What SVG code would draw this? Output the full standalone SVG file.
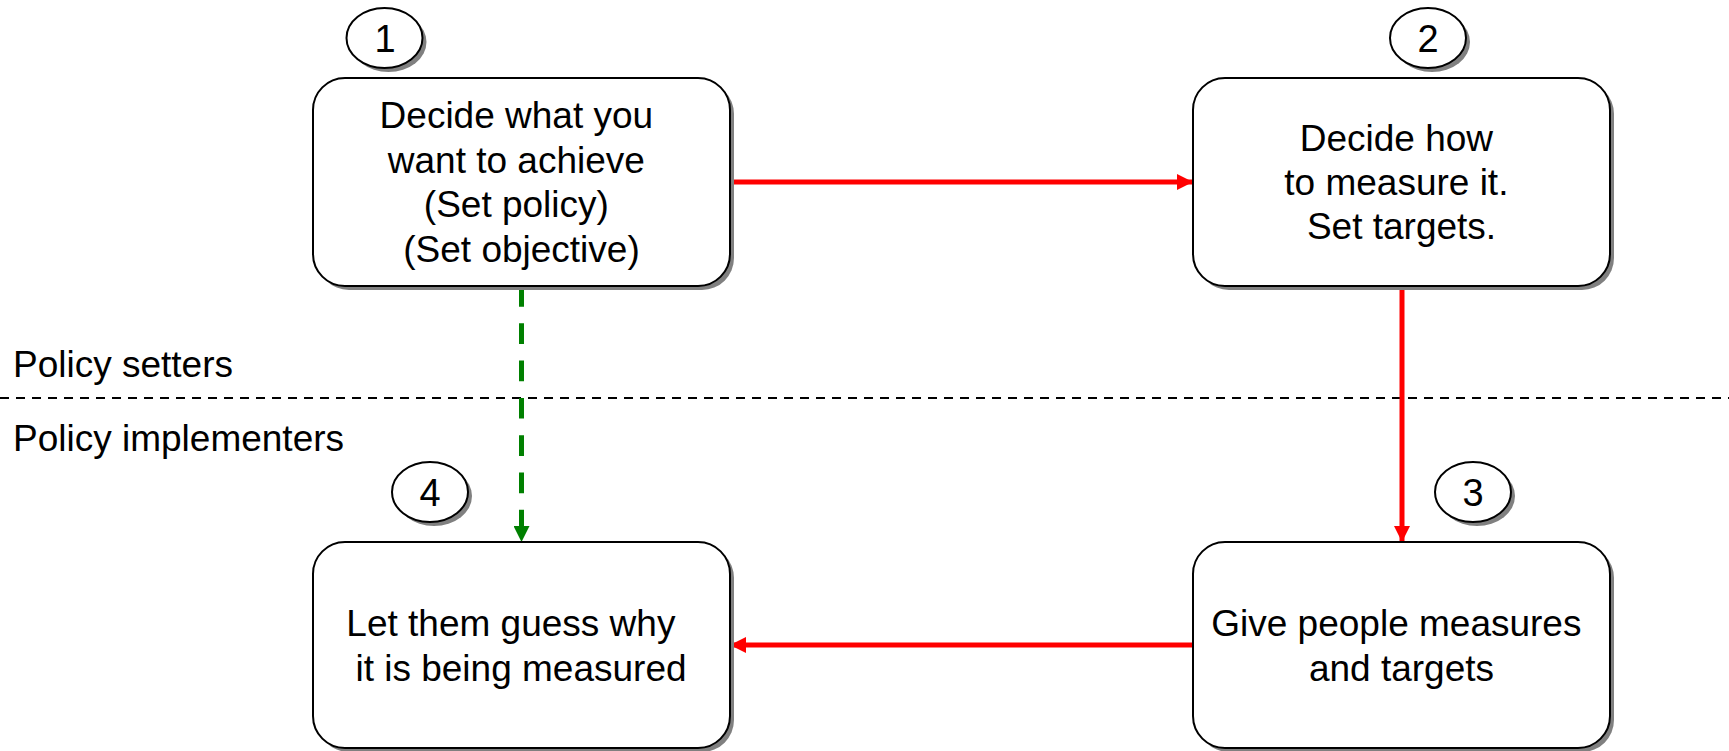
<svg xmlns="http://www.w3.org/2000/svg" width="1729" height="751" viewBox="0 0 1729 751">
  <style>
    .box { fill: #ffffff; stroke: #000000; stroke-width: 2; }
    .shadow { fill: #808080; stroke: none; }
    .txt { font-family: "Liberation Sans", Arial, sans-serif; font-size: 37px; fill: #000000; text-anchor: middle; }
    .num { font-family: "Liberation Sans", Arial, sans-serif; font-size: 38px; fill: #000000; text-anchor: middle; }
    .lbl { font-family: "Liberation Sans", Arial, sans-serif; font-size: 37px; fill: #000000; }
    .red { stroke: #ff0000; stroke-width: 5; fill: none; }
    .green { stroke: #008000; stroke-width: 5; fill: none; stroke-dasharray: 20.7 16.6; }
    .divider { stroke: #000000; stroke-width: 2; stroke-dasharray: 9 7; }
  </style>
  <defs>
    <marker id="arrowRed" markerUnits="userSpaceOnUse" markerWidth="16" markerHeight="16" refX="16" refY="8" orient="auto">
      <path d="M0,0 L16,8 L0,16 Z" fill="#ff0000"/>
    </marker>
    <marker id="arrowGreen" markerUnits="userSpaceOnUse" markerWidth="16" markerHeight="16" refX="16" refY="8" orient="auto">
      <path d="M0,0 L16,8 L0,16 Z" fill="#008000"/>
    </marker>
  </defs>

  <rect width="1729" height="751" fill="#ffffff"/>

  <!-- swim-lane divider and lane labels -->
  <line class="divider" x1="0" y1="398" x2="1729" y2="398"/>
  <text class="lbl" x="13" y="377">Policy setters</text>
  <text class="lbl" x="13" y="451">Policy implementers</text>

  <!-- connectors -->
  <g id="connectors">
    <line class="red" x1="730" y1="182" x2="1193" y2="182" marker-end="url(#arrowRed)"/>
    <line class="red" x1="1402" y1="286" x2="1402" y2="542" marker-end="url(#arrowRed)"/>
    <line class="red" x1="1193" y1="645" x2="730" y2="645" marker-end="url(#arrowRed)"/>
    <line class="green" x1="521.5" y1="286" x2="521.5" y2="542" marker-end="url(#arrowGreen)"/>
  </g>

  <!-- step 1 -->
  <g id="step1">
    <ellipse class="shadow" cx="388.5" cy="42" rx="38" ry="30"/>
    <ellipse class="box" cx="384.5" cy="38" rx="38" ry="30"/>
    <text class="num" x="385" y="52">1</text>
    <rect class="shadow" x="317" y="82" width="417" height="208" rx="32"/>
    <rect class="box" x="313" y="78" width="417" height="208" rx="32"/>
    <text class="txt">
      <tspan x="521.5" y="128">Decide what you</tspan>
      <tspan x="521.5" y="173">want to achieve</tspan>
      <tspan x="521.5" y="217">(Set policy)</tspan>
      <tspan x="521.5" y="262">(Set objective)</tspan>
    </text>
  </g>

  <!-- step 2 -->
  <g id="step2">
    <ellipse class="shadow" cx="1432" cy="42" rx="38" ry="30"/>
    <ellipse class="box" cx="1428" cy="38" rx="38" ry="30"/>
    <text class="num" x="1428" y="52">2</text>
    <rect class="shadow" x="1197" y="82" width="417" height="208" rx="32"/>
    <rect class="box" x="1193" y="78" width="417" height="208" rx="32"/>
    <text class="txt">
      <tspan x="1401.5" y="151">Decide how</tspan>
      <tspan x="1401.5" y="195">to measure it.</tspan>
      <tspan x="1401.5" y="239">Set targets.</tspan>
    </text>
  </g>

  <!-- step 3 -->
  <g id="step3">
    <ellipse class="shadow" cx="1477" cy="496" rx="38" ry="30"/>
    <ellipse class="box" cx="1473" cy="492" rx="38" ry="30"/>
    <text class="num" x="1473" y="506">3</text>
    <rect class="shadow" x="1197" y="546" width="417" height="206" rx="32"/>
    <rect class="box" x="1193" y="542" width="417" height="206" rx="32"/>
    <text class="txt">
      <tspan x="1401.5" y="636">Give people measures</tspan>
      <tspan x="1401.5" y="681">and targets</tspan>
    </text>
  </g>

  <!-- step 4 -->
  <g id="step4">
    <ellipse class="shadow" cx="434" cy="496" rx="38" ry="30"/>
    <ellipse class="box" cx="430" cy="492" rx="38" ry="30"/>
    <text class="num" x="430" y="506">4</text>
    <rect class="shadow" x="317" y="546" width="417" height="206" rx="32"/>
    <rect class="box" x="313" y="542" width="417" height="206" rx="32"/>
    <text class="txt">
      <tspan x="516" y="636">Let them guess why</tspan>
      <tspan x="521" y="681">it is being measured</tspan>
    </text>
  </g>
</svg>
